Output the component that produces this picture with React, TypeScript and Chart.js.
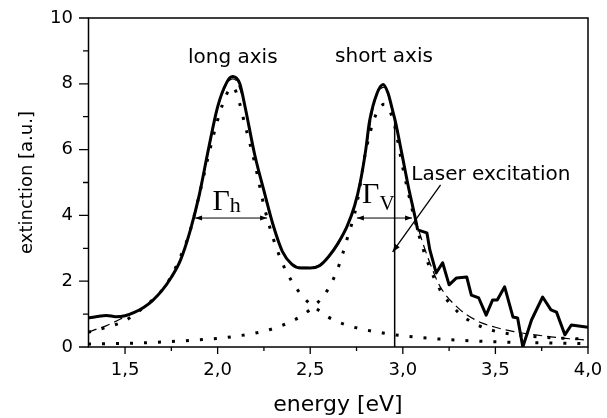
import React, { useEffect, useRef } from 'react';
import { Chart, registerables } from 'chart.js';

Chart.register(...registerables);

// ---- tick values ----
const xTicks = [1.5, 2.0, 2.5, 3.0, 3.5, 4.0];
const xMinorTicks = [1.75, 2.25, 2.75, 3.25, 3.75];
const yTicks = [0, 2, 4, 6, 8, 10];
const yMinorTicks = [1, 3, 5, 7, 9];

// ---- measured extinction (solid), smooth part ----
const solidX = [1.3, 1.35, 1.4, 1.45, 1.5, 1.55, 1.6, 1.65, 1.7, 1.75, 1.8, 1.85, 1.9, 1.95, 2.0, 2.05, 2.08, 2.1, 2.12, 2.15, 2.2, 2.25, 2.3, 2.35, 2.4, 2.45, 2.5, 2.55, 2.6, 2.65, 2.7, 2.74, 2.77, 2.8, 2.82, 2.86, 2.894, 2.92, 2.94, 2.96, 2.994, 3.03, 3.066, 3.08];
const solidY = [0.88, 0.93, 0.96, 0.92, 0.95, 1.05, 1.2, 1.42, 1.72, 2.12, 2.65, 3.5, 4.6, 6.0, 7.3, 8.05, 8.22, 8.18, 8.0, 7.25, 5.85, 4.75, 3.7, 2.9, 2.52, 2.4, 2.4, 2.47, 2.75, 3.15, 3.68, 4.3, 5.0, 6.0, 6.85, 7.7, 7.98, 7.72, 7.3, 6.85, 5.9, 4.87, 3.95, 3.56];
// ---- measured extinction (solid), noisy tail ----
const tailX = [3.08, 3.13, 3.146, 3.18, 3.215, 3.25, 3.29, 3.345, 3.37, 3.41, 3.45, 3.485, 3.51, 3.55, 3.595, 3.62, 3.648, 3.695, 3.755, 3.8, 3.83, 3.875, 3.91, 4.0];
const tailY = [3.56, 3.47, 2.95, 2.25, 2.56, 1.89, 2.1, 2.13, 1.58, 1.49, 0.97, 1.43, 1.43, 1.83, 0.91, 0.88, 0.0, 0.82, 1.52, 1.13, 1.06, 0.37, 0.67, 0.6];

// ---- fit sum (dashed) ----
const dashedX = [1.3, 1.35, 1.4, 1.45, 1.5, 1.55, 1.6, 1.65, 1.7, 1.75, 1.8, 1.85, 1.9, 1.95, 2.0, 2.05, 2.08, 2.1, 2.15, 2.2, 2.25, 2.3, 2.35, 2.4, 2.45, 2.5, 2.55, 2.6, 2.65, 2.7, 2.75, 2.8, 2.85, 2.9, 2.95, 3.0, 3.05, 3.1, 3.15, 3.2, 3.3, 3.4, 3.5, 3.6, 3.7, 3.8, 3.9, 4.0];
const dashedY = [0.45, 0.55, 0.65, 0.78, 0.92, 1.04, 1.2, 1.42, 1.72, 2.12, 2.65, 3.48, 4.55, 5.95, 7.25, 8.0, 8.15, 8.1, 7.25, 5.85, 4.7, 3.65, 2.9, 2.52, 2.42, 2.42, 2.5, 2.76, 3.14, 3.68, 4.5, 6.0, 7.5, 7.9, 7.0, 5.7, 4.3, 3.3, 2.5, 1.85, 1.18, 0.8, 0.6, 0.47, 0.38, 0.31, 0.25, 0.21];

// ---- long-axis resonance (dotted) ----
const longX = [1.3, 1.4, 1.5, 1.6, 1.7, 1.75, 1.8, 1.85, 1.9, 1.95, 2.0, 2.05, 2.08, 2.1, 2.15, 2.2, 2.25, 2.3, 2.35, 2.4, 2.45, 2.5, 2.55, 2.6, 2.7, 2.8, 2.9, 3.0, 3.2, 3.4, 3.6, 3.8, 4.0];
const longY = [0.45, 0.6, 0.8, 1.2, 1.73, 2.15, 2.75, 3.5, 4.6, 5.8, 6.9, 7.7, 7.9, 7.75, 6.7, 5.6, 4.3, 3.3, 2.55, 2.0, 1.6, 1.3, 1.1, 0.9, 0.66, 0.52, 0.42, 0.34, 0.24, 0.18, 0.14, 0.12, 0.1];

// ---- short-axis resonance (dotted) ----
const shortX = [1.3, 1.5, 1.7, 1.9, 2.0, 2.1, 2.2, 2.3, 2.4, 2.45, 2.5, 2.55, 2.6, 2.65, 2.7, 2.75, 2.8, 2.85, 2.9, 2.95, 3.0, 3.05, 3.1, 3.15, 3.2, 3.3, 3.4, 3.5, 3.6, 3.7, 3.8, 3.9, 4.0];
const shortY = [0.09, 0.11, 0.15, 0.22, 0.26, 0.33, 0.42, 0.56, 0.78, 0.94, 1.14, 1.41, 1.79, 2.4, 3.3, 4.3, 5.95, 7.0, 7.38, 6.85, 5.45, 4.2, 3.15, 2.35, 1.75, 1.05, 0.68, 0.48, 0.38, 0.32, 0.28, 0.26, 0.24];

// ---- annotations (data coordinates) ----
const laserLine = { x: 2.956, y0: 0, y1: 6.95 };
const laserArrow = { x0: 3.204, y0: 4.93, x1: 2.945, y1: 2.89 };
const gammaH = { x0: 1.878, x1: 2.267, y: 3.92 };
const gammaV = { x0: 2.752, x1: 3.05, y: 3.92 };

const pts = (xs: number[], ys: number[]) => xs.map((x, i) => ({ x, y: ys[i] }));
const fmtX = (v: number) => v.toFixed(1).replace('.', ',');

const SANS = '"DejaVu Sans"';
const SERIF = '"Liberation Serif"';

function arrowHead(ctx: CanvasRenderingContext2D, fx: number, fy: number, tx: number, ty: number, len = 7, half = 2.8) {
  const ang = Math.atan2(ty - fy, tx - fx);
  ctx.beginPath();
  ctx.moveTo(tx, ty);
  ctx.lineTo(tx - len * Math.cos(ang) + half * Math.sin(ang), ty - len * Math.sin(ang) - half * Math.cos(ang));
  ctx.lineTo(tx - len * Math.cos(ang) - half * Math.sin(ang), ty - len * Math.sin(ang) + half * Math.cos(ang));
  ctx.closePath();
  ctx.fill();
}

const overlay = {
  id: 'overlay',
  afterDatasetsDraw(chart: any) {
    const { ctx, chartArea: a, scales } = chart;
    const xs = scales.x, ys = scales.y;
    const X = (v: number) => xs.getPixelForValue(v);
    const Y = (v: number) => ys.getPixelForValue(v);
    ctx.save();
    ctx.strokeStyle = '#000';
    ctx.fillStyle = '#000';

    // frame
    ctx.lineWidth = 1.5;
    ctx.strokeRect(a.left + 0.5, a.top, a.right - a.left - 0.5, a.bottom - a.top);

    // ticks
    ctx.lineWidth = 1.3;
    ctx.beginPath();
    xTicks.forEach((v) => { const p = X(v); ctx.moveTo(p, a.bottom); ctx.lineTo(p, a.bottom + 7); });
    xMinorTicks.forEach((v) => { const p = X(v); ctx.moveTo(p, a.bottom); ctx.lineTo(p, a.bottom + 4); });
    yTicks.forEach((v) => { const p = Y(v); ctx.moveTo(a.left + 0.5, p); ctx.lineTo(a.left - 9, p); });
    yMinorTicks.forEach((v) => { const p = Y(v); ctx.moveTo(a.left + 0.5, p); ctx.lineTo(a.left - 5, p); });
    ctx.stroke();

    // laser vertical line
    ctx.lineWidth = 1.5;
    ctx.beginPath();
    ctx.moveTo(X(laserLine.x), Y(laserLine.y0));
    ctx.lineTo(X(laserLine.x), Y(laserLine.y1));
    ctx.stroke();

    // laser arrow
    ctx.lineWidth = 1.3;
    const lx0 = X(laserArrow.x0), ly0 = Y(laserArrow.y0), lx1 = X(laserArrow.x1), ly1 = Y(laserArrow.y1);
    ctx.beginPath();
    ctx.moveTo(lx0, ly0);
    ctx.lineTo(lx1, ly1);
    ctx.stroke();
    arrowHead(ctx, lx0, ly0, lx1, ly1, 8, 3);

    // width arrows
    ctx.lineWidth = 1;
    [gammaH, gammaV].forEach((g) => {
      const x0 = X(g.x0), x1 = X(g.x1), yy = Y(g.y);
      ctx.beginPath();
      ctx.moveTo(x0, yy);
      ctx.lineTo(x1, yy);
      ctx.stroke();
      arrowHead(ctx, x1, yy, x0, yy, 7, 2.5);
      arrowHead(ctx, x0, yy, x1, yy, 7, 2.5);
    });

    // texts
    ctx.textAlign = 'left';
    ctx.textBaseline = 'alphabetic';
    ctx.font = `20px ${SANS}`;
    ctx.fillText('long axis', X(1.84), Y(8.63));
    ctx.fillText('short axis', X(2.634), Y(8.66));
    ctx.fillText('Laser excitation', X(3.046), Y(5.08));

    // Gamma labels
    ctx.font = `30px ${SERIF}`;
    const ghx = X(1.972), ghy = Y(4.16);
    ctx.fillText('Γ', ghx, ghy);
    const gw = ctx.measureText('Γ').width;
    ctx.font = `22px ${SERIF}`;
    ctx.fillText('h', ghx + gw, ghy + 2);

    ctx.font = `30px ${SERIF}`;
    const gvx = X(2.78), gvy = Y(4.38);
    ctx.fillText('Γ', gvx, gvy);
    ctx.font = `21px ${SERIF}`;
    ctx.fillText('V', gvx + gw, gvy + 7);

    ctx.restore();
  },
};

const lineStyle = { borderColor: '#000', pointRadius: 0, fill: false };
const dotted = { ...lineStyle, borderWidth: 3, borderDash: [3, 11], borderCapStyle: 'butt', cubicInterpolationMode: 'monotone' };

export default function App() {
  const ref = useRef<HTMLCanvasElement>(null);

  useEffect(() => {
    if (!ref.current) return;
    const chart = new Chart(ref.current, {
      type: 'line',
      data: {
        datasets: [
          { ...lineStyle, label: 'measured', data: pts(solidX, solidY), borderWidth: 3, cubicInterpolationMode: 'monotone', borderJoinStyle: 'round' },
          { ...lineStyle, label: 'measured tail', data: pts(tailX, tailY), borderWidth: 3, tension: 0, borderJoinStyle: 'round' },
          { ...lineStyle, label: 'fit', data: pts(dashedX, dashedY), borderWidth: 1.2, borderDash: [9, 5], cubicInterpolationMode: 'monotone' },
          { ...dotted, label: 'long axis', data: pts(longX, longY) },
          { ...dotted, label: 'short axis', data: pts(shortX, shortY) },
        ],
      },
      options: {
        animation: false,
        responsive: false,
        maintainAspectRatio: false,
        devicePixelRatio: 1,
        layout: { padding: { top: 18, right: 19, left: 0, bottom: 0 } },
        plugins: { legend: { display: false }, tooltip: { enabled: false } },
        scales: {
          x: {
            type: 'linear',
            min: 1.3,
            max: 4.0,
            grid: { display: false, drawTicks: false },
            border: { display: false },
            afterBuildTicks: (s: any) => { s.ticks = xTicks.map((v) => ({ value: v })); },
            afterFit: (s: any) => { s.height = 71; s.paddingLeft = 0; s.paddingRight = 0; },
            ticks: {
              color: '#000',
              font: { family: SANS, size: 18 },
              padding: 13,
              maxRotation: 0,
              autoSkip: false,
              callback: (v: any) => fmtX(Number(v)),
            },
            title: {
              display: true,
              text: 'energy [eV]',
              color: '#000',
              font: { family: SANS, size: 22 },
              padding: { top: 0, bottom: 0 },
            },
          },
          y: {
            type: 'linear',
            min: 0,
            max: 10,
            grid: { display: false, drawTicks: false },
            border: { display: false },
            afterBuildTicks: (s: any) => { s.ticks = yTicks.map((v) => ({ value: v })); },
            afterFit: (s: any) => { s.width = 88; s.paddingTop = 0; s.paddingBottom = 0; },
            ticks: {
              color: '#000',
              font: { family: SANS, size: 18 },
              padding: 15,
              autoSkip: false,
              callback: (v: any) => String(v),
            },
            title: {
              display: true,
              text: 'extinction [a.u.]',
              color: '#000',
              font: { family: SANS, size: 18 },
              padding: { top: 17, bottom: 0 },
            },
          },
        },
      },
      plugins: [overlay],
    } as any);
    return () => chart.destroy();
  }, []);

  return (
    <div style={{ position: 'fixed', left: 0, top: 0, width: 607, height: 418, background: '#fff' }}>
      <canvas ref={ref} width={607} height={418} style={{ display: 'block', width: 607, height: 418 }} />
    </div>
  );
}
